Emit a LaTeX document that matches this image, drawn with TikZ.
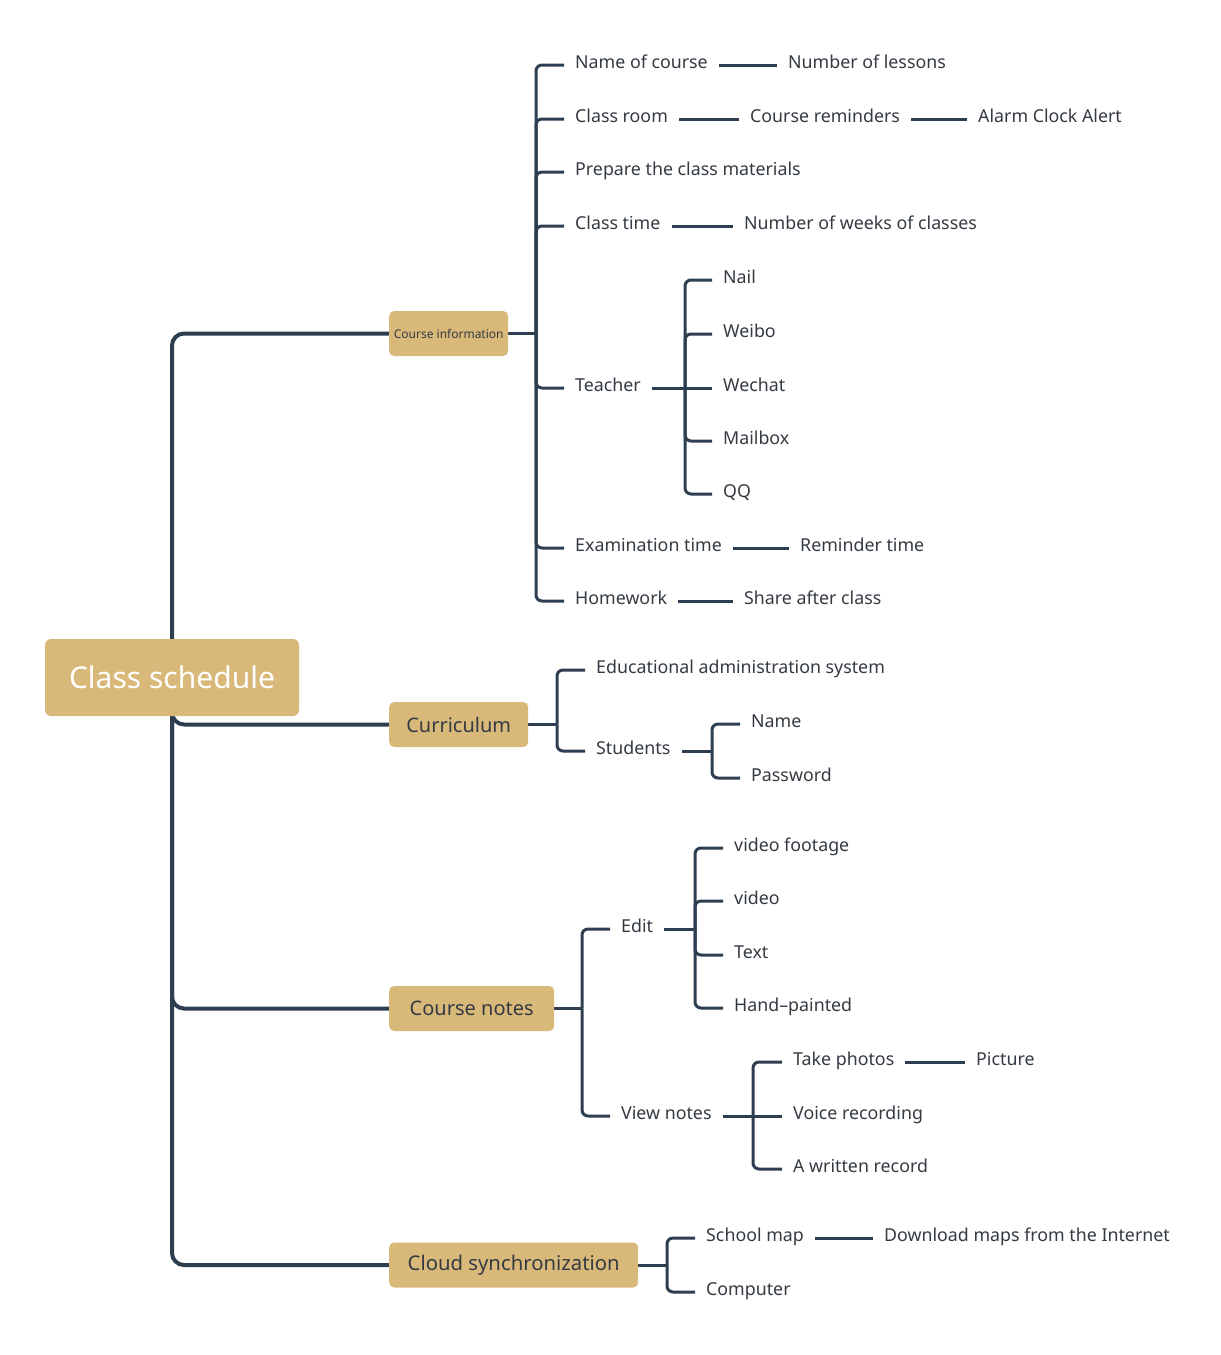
\documentclass[tikz,border=0pt]{standalone}
\usepackage{fontspec}
\setmainfont{Noto Sans}
\usetikzlibrary{backgrounds}
\definecolor{boxc}{RGB}{217,185,122}
\definecolor{linec}{RGB}{44,62,80}
\definecolor{txtc}{RGB}{52,58,66}
\begin{document}
\begin{tikzpicture}[x=1pt,y=-1pt,
 leaf/.style={anchor=west, inner xsep=11pt, inner ysep=0pt, text height=12pt, text depth=5pt, font=\fontsize{17.8}{20}\selectfont, text=txtc},
 mbox/.style={anchor=west, fill=boxc, rounded corners=5pt, minimum height=45pt, inner sep=0pt, font=\fontsize{20}{24}\selectfont, text=txtc},
 trunk/.style={draw=linec, line width=4pt, rounded corners=12pt},
 br/.style={draw=linec, line width=3pt, rounded corners=6pt},
]
\useasboundingbox (0,0) rectangle (1221,1355);

% root and main branches
\node[fill=boxc, rounded corners=6pt, minimum width=254pt, minimum height=77pt, inner sep=0pt, text=white, font=\fontsize{30}{36}\selectfont] (root) at (172,677.5) {Class schedule};
\node[mbox, minimum width=119pt, font=\bfseries\fontsize{12}{14}\selectfont] (ci) at (389,333.5) {Course information};
\node[mbox, minimum width=139pt] (cur) at (389,724.5) {Curriculum};
\node[mbox, minimum width=165pt] (cn) at (389,1008.5) {Course notes};
\node[mbox, minimum width=249pt, font=\fontsize{20.3}{24}\selectfont] (cs) at (389,1265) {Cloud synchronization};

% Course information leaves
\node[leaf] (a1) at (564,65) {Name of course};
\node[leaf] (a1b) at (777,65) {Number of lessons};
\node[leaf] (a2) at (564,119) {Class room};
\node[leaf] (a2b) at (739,119) {Course reminders};
\node[leaf] (a2c) at (967,119) {Alarm Clock Alert};
\node[leaf] (a3) at (564,172) {Prepare the class materials};
\node[leaf] (a4) at (564,226) {Class time};
\node[leaf] (a4b) at (733,226) {Number of weeks of classes};
\node[leaf] (a5) at (564,388) {Teacher};
\node[leaf] (t1) at (712,280) {Nail};
\node[leaf] (t2) at (712,334) {Weibo};
\node[leaf] (t3) at (712,388) {Wechat};
\node[leaf] (t4) at (712,441) {Mailbox};
\node[leaf] (t5) at (712,494) {QQ};
\node[leaf] (a6) at (564,548) {Examination time};
\node[leaf] (a6b) at (789,548) {Reminder time};
\node[leaf] (a7) at (564,601) {Homework};
\node[leaf] (a7b) at (733,601) {Share after class};

% Curriculum leaves
\node[leaf] (b1) at (585,670) {Educational administration system};
\node[leaf] (b2) at (585,751) {Students};
\node[leaf] (s1) at (740,724) {Name};
\node[leaf] (s2) at (740,778) {Password};

% Course notes leaves
\node[leaf] (c1) at (610,929) {Edit};
\node[leaf] (e1) at (723,848) {video footage};
\node[leaf] (e2) at (723,901) {video};
\node[leaf] (e3) at (723,955) {Text};
\node[leaf] (e4) at (723,1008) {Hand–painted};
\node[leaf] (c2) at (610,1116) {View notes};
\node[leaf] (v1) at (782,1062) {Take photos};
\node[leaf] (v1b) at (965,1062) {Picture};
\node[leaf] (v2) at (782,1116) {Voice recording};
\node[leaf] (v3) at (782,1169) {A written record};

% Cloud sync leaves
\node[leaf] (d1) at (695,1238) {School map};
\node[leaf] (d1b) at (873,1238) {Download maps from the Internet};
\node[leaf] (d2) at (695,1292) {Computer};

\begin{scope}[on background layer]
% trunk
\draw[trunk] (root.center) |- (ci.west);
\draw[trunk] (root.center) |- (cur.west);
\draw[trunk] (root.center) |- (cn.west);
\draw[trunk] (root.center) |- (cs.west);

% course information
\coordinate (J1) at (536,333.5);
\draw[br] (ci.east) -- (J1);
\foreach \n in {a1,a2,a3,a4,a5,a6,a7} \draw[br] (J1) |- (\n.west);
\draw[br] (a1.east) -- (a1b.west);
\draw[br] (a2.east) -- (a2b.west);
\draw[br] (a2b.east) -- (a2c.west);
\draw[br] (a4.east) -- (a4b.west);
\draw[br] (a6.east) -- (a6b.west);
\draw[br] (a7.east) -- (a7b.west);
\coordinate (J2) at (685,388);
\draw[br] (a5.east) -- (J2);
\foreach \n in {t1,t2,t4,t5} \draw[br] (J2) |- (\n.west);
\draw[br] (J2) -- (t3.west);

% curriculum
\coordinate (J3) at (557,724.5);
\draw[br] (cur.east) -- (J3);
\foreach \n in {b1,b2} \draw[br] (J3) |- (\n.west);
\coordinate (J4) at (712,751);
\draw[br] (b2.east) -- (J4);
\foreach \n in {s1,s2} \draw[br] (J4) |- (\n.west);

% course notes
\coordinate (J5) at (582,1008.5);
\draw[br] (cn.east) -- (J5);
\foreach \n in {c1,c2} \draw[br] (J5) |- (\n.west);
\coordinate (J6) at (695,929);
\draw[br] (c1.east) -- (J6);
\foreach \n in {e1,e2,e3,e4} \draw[br] (J6) |- (\n.west);
\coordinate (J7) at (753,1116);
\draw[br] (c2.east) -- (J7);
\foreach \n in {v1,v3} \draw[br] (J7) |- (\n.west);
\draw[br] (J7) -- (v2.west);
\draw[br] (v1.east) -- (v1b.west);

% cloud sync
\coordinate (J8) at (667,1265);
\draw[br] (cs.east) -- (J8);
\foreach \n in {d1,d2} \draw[br] (J8) |- (\n.west);
\draw[br] (d1.east) -- (d1b.west);
\end{scope}
\end{tikzpicture}
\end{document}
